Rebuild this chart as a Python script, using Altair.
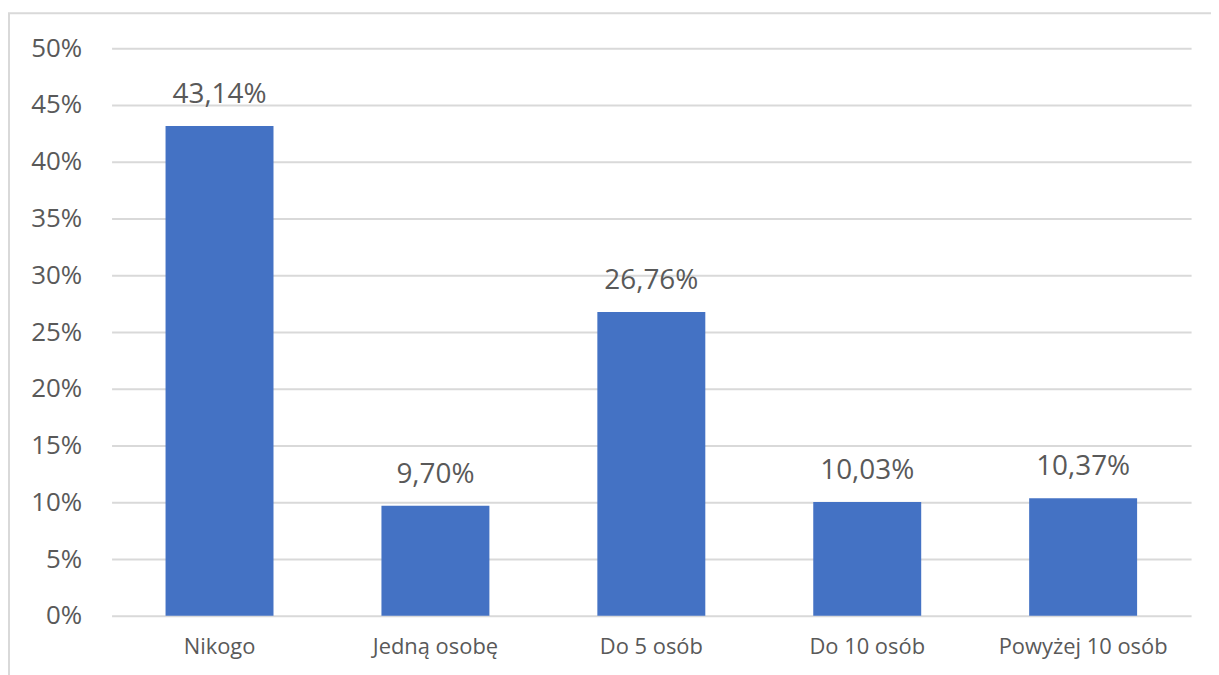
import altair as alt
import pandas as pd

categories = ["Nikogo", "Jedną osobę", "Do 5 osób", "Do 10 osób", "Powyżej 10 osób"]
values = [0.4314, 0.0970, 0.2676, 0.1003, 0.1037]
y_ticks = [0, 0.05, 0.10, 0.15, 0.20, 0.25, 0.30, 0.35, 0.40, 0.45, 0.50]

df = pd.DataFrame({"cat": categories, "val": values})

W, H = 1084, 570
FONT = "Open Sans"
TXT = "#595959"

base = alt.Chart(df)

x_enc = alt.X("cat:N", sort=categories, title=None,
              scale=alt.Scale(paddingInner=0.5, paddingOuter=0.25),
              axis=alt.Axis(labelAngle=0, labelFont=FONT, labelFontSize=22,
                            labelColor=TXT, labelPadding=21, ticks=False,
                            domain=False, grid=False))
y_enc = alt.Y("val:Q", title=None,
              scale=alt.Scale(domain=[0, 0.5], nice=False),
              axis=alt.Axis(values=y_ticks, format=".0%", labelFont=FONT,
                            labelFontSize=26, labelColor=TXT, labelPadding=30,
                            ticks=False, domain=False, grid=True,
                            gridColor="#D9D9D9", gridWidth=2))

frame = base.mark_rect(fill=None, stroke="#D9D9D9", strokeWidth=2).encode(
    x=alt.value(-103), x2=alt.value(W + 300),
    y=alt.value(-35), y2=alt.value(H + 300)
).transform_filter(alt.datum.cat == "Nikogo")

bars = base.mark_bar(color="#4472C4").encode(x=x_enc, y=y_enc)

labels = base.mark_text(font=FONT, fontSize=28, color=TXT, baseline="bottom",
                        dy=-17).encode(
    x=alt.X("cat:N", sort=categories),
    y=alt.Y("val:Q"),
    text=alt.Text("val:Q", format=".2%"))

chart = alt.layer(frame, bars, labels).properties(
    width=W, height=H,
    background="white",
    padding={"left": 104, "top": 39, "right": 20, "bottom": 60},
    autosize=alt.AutoSizeParams(type="none"),
).configure_view(strokeWidth=0, stroke="transparent")

chart.save("out.html", embed_options={
    "renderer": "svg", "actions": False,
    "formatLocale": {"decimal": ",", "thousands": " ", "grouping": [3],
                     "currency": ["", " zł"], "percent": "%"}})
